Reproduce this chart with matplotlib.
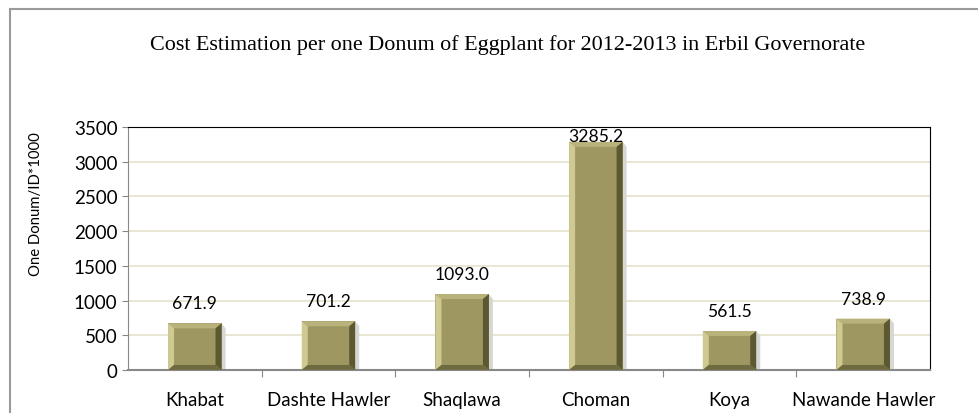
import matplotlib.pyplot as plt
from matplotlib.patches import Polygon
from matplotlib.lines import Line2D

districts = ["Khabat", "Dashte Hawler", "Shaqlawa", "Choman", "Koya", "Nawande Hawler"]
cost = [671.9, 701.2, 1093.0, 3285.2, 561.5, 738.9]
yticks = [0, 500, 1000, 1500, 2000, 2500, 3000, 3500]

fig = plt.figure(figsize=(9.79, 4.14), dpi=100)
ax = fig.add_axes([0.1307, 0.104, 0.8193, 0.587])

# outer frame of the chart (left and top edges visible)
fig.add_artist(Line2D([0.0102, 0.0102], [0, 0.976], color="#9a9a9a", lw=1.5, transform=fig.transFigure))
fig.add_artist(Line2D([0.0102, 1.0], [0.976, 0.976], color="#9a9a9a", lw=1.5, transform=fig.transFigure))

fig.text(0.519, 0.89, "Cost Estimation per one Donum of Eggplant for 2012-2013 in Erbil Governorate",
         ha="center", va="center", family="Liberation Serif", fontsize=15.9)

x = list(range(len(districts)))
ax.set_xlim(-0.5, len(districts) - 0.5)
ax.set_ylim(0, 3500)
ax.set_yticks(yticks)
ax.grid(axis="y", color="#e6e2cc", lw=1.2)
ax.set_axisbelow(True)

bars = ax.bar(x, cost, width=0.4, color="#9e9761", zorder=3)

# bevel effect, sizes worked out in pixels
fig.canvas.draw()
inv = ax.transData.inverted()
ox, oy = ax.transData.transform((0, 0))
dx = inv.transform((ox + 6, oy))[0]
dy = inv.transform((ox, oy + 5))[1]
sx = inv.transform((ox + 4, oy))[0]
for b in bars:
    x0, w, h = b.get_x(), b.get_width(), b.get_height()
    x1 = x0 + w
    # soft shadow on the right
    ax.add_patch(Polygon([(x1, 0), (x1 + sx, 0), (x1 + sx, h - dy), (x1, h)],
                         closed=True, color="#d6d6d2", zorder=2, lw=0))
    ax.add_patch(Polygon([(x0, h), (x1, h), (x1 - dx, h - dy), (x0 + dx, h - dy)],
                         closed=True, color="#b9b37b", zorder=4, lw=0))
    ax.add_patch(Polygon([(x0, 0), (x0, h), (x0 + dx, h - dy), (x0 + dx, dy)],
                         closed=True, color="#cfca92", zorder=4, lw=0))
    ax.add_patch(Polygon([(x1, 0), (x1, h), (x1 - dx, h - dy), (x1 - dx, dy)],
                         closed=True, color="#5b5832", zorder=4, lw=0))
    ax.add_patch(Polygon([(x0, 0), (x1, 0), (x1 - dx, dy), (x0 + dx, dy)],
                         closed=True, color="#6f6b40", zorder=4, lw=0))

for xi, v in zip(x, cost):
    ax.text(xi, min(v + 290, 3370), f"{v:.1f}", ha="center", va="center",
            family="Lato", fontsize=12.6, zorder=5)

ax.set_xticks([i + 0.5 for i in x[:-1]], minor=False)
ax.set_xticklabels([])
ax.set_xticks(x, districts, minor=True)
ax.tick_params(axis="x", which="major", length=5, color="#888888")
ax.tick_params(axis="x", which="minor", length=0, pad=15, labelsize=13.5)
for lab in ax.get_xticklabels(minor=True):
    lab.set_family("Lato")
ax.tick_params(axis="y", length=4, color="#888888", labelsize=13.5)
for lab in ax.get_yticklabels():
    lab.set_family("Lato")
ax.set_ylabel("One Donum/ID*1000", family="Lato", fontsize=10.7)
ax.yaxis.set_label_coords(-0.106, 0.687)

ax.spines["left"].set_color("#888888")
ax.spines["bottom"].set_color("#888888")
ax.spines["bottom"].set_linewidth(1.5)
ax.spines["top"].set_color("black")
ax.spines["right"].set_color("black")

fig.savefig("out.png", dpi=100)
